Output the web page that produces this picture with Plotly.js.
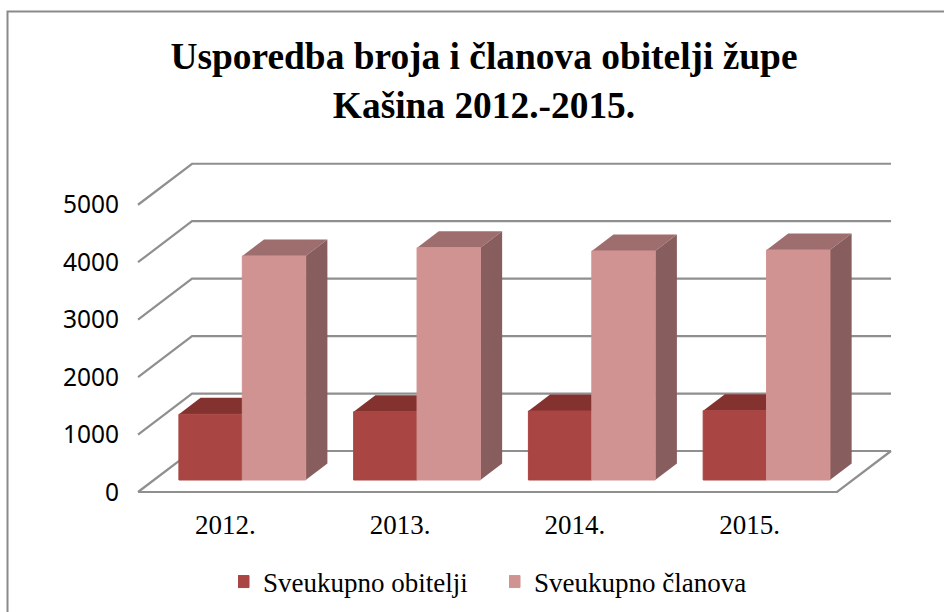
<!DOCTYPE html>
<html><head><meta charset="utf-8">
<script src="https://cdn.plot.ly/plotly-3.0.1.min.js"></script>
<style>html,body{margin:0;padding:0;background:#fff}</style></head>
<body><div id="chart" style="width:944px;height:612px"></div>
<script>
const categories = ['2012.', '2013.', '2014.', '2015.'];
const obitelji = [1143, 1188, 1200, 1205];
const clanova = [3896, 4040, 3983, 4000];
const yTicks = [0, 1000, 2000, 3000, 4000, 5000];
const seriesNames = ['Sveukupno obitelji', 'Sveukupno članova'];

// Layout constants (pixels)
const W = 944, H = 612;
const L = 120, R = 900, T = 150, B = 500;
const catPx = 174.75, cat0Px = 225.4;
const barCat0Px = 242.3;
const unitWall = 57.45 / 1000, zeroWall = 492;
const unitBar = 57.5 / 1000, zeroBar = 480;
const floorDx = 54 / catPx, floorDy = 41 / unitWall;
const barDx = 21.7 / catPx, barDy = 16.5 / unitBar;
const barW = 63.4 / catPx;

const xRange = c0 => [(L - c0) / catPx, (R - c0) / catPx];
const yRange = (z, u) => [(z - B) / u, (z - T) / u];

const gridCol = '#8f8f8f';
const traces = [];
yTicks.forEach(v => {
  traces.push({type:'scatter', mode:'lines', xaxis:'x', yaxis:'y', showlegend:false, hoverinfo:'skip',
    x:[-0.5, -0.5 + floorDx, 3.5 + floorDx], y:[v, v + floorDy, v + floorDy],
    line:{color:gridCol, width:2.2}});
});
traces.push({type:'scatter', mode:'lines', xaxis:'x', yaxis:'y', showlegend:false, hoverinfo:'skip',
  x:[-0.5, 3.5, 3.5 + floorDx], y:[0, 0, floorDy], line:{color:gridCol, width:2.2}});

function faces(vals, off, topCol, sideCol) {
  vals.forEach((v, i) => {
    const l = i + off, r = l + barW;
    traces.push({type:'scatter', mode:'lines', xaxis:'x2', yaxis:'y2', showlegend:false, hoverinfo:'skip',
      x:[l, l + barDx, r + barDx, r, l], y:[v, v + barDy, v + barDy, v, v],
      fill:'toself', fillcolor:topCol, line:{width:0, color:topCol}});
    traces.push({type:'scatter', mode:'lines', xaxis:'x2', yaxis:'y2', showlegend:false, hoverinfo:'skip',
      x:[r, r + barDx, r + barDx, r, r], y:[0, barDy, v + barDy, v, 0],
      fill:'toself', fillcolor:sideCol, line:{width:0, color:sideCol}});
  });
}
faces(obitelji, -barW, '#843230', '#6e2a28');
faces(clanova, 0, '#9e6e6e', '#875e5d');

const xNums = categories.map((c, i) => i);
traces.push({type:'bar', xaxis:'x3', yaxis:'y3', x:xNums, y:obitelji, name:seriesNames[0], offsetgroup:'a', legend:'legend',
  marker:{color:'#a94542', line:{width:1, color:'#a94542'}}, width:barW, offset:-barW});
traces.push({type:'bar', xaxis:'x3', yaxis:'y3', x:xNums, y:clanova, name:seriesNames[1], offsetgroup:'b', legend:'legend2',
  marker:{color:'#d19392', line:{width:1, color:'#d19392'}}, width:barW, offset:0});

const hiddenAxis = {showgrid:false, zeroline:false, showticklabels:false, ticks:'', showline:false, fixedrange:true};
const legendFont = {family:'"Liberation Serif", serif', size:27, color:'#000'};
const legendY = (H - 582) / H;
const layout = {
  width:W, height:H, autosize:false, showlegend:true, barmode:'overlay',
  paper_bgcolor:'#fff', plot_bgcolor:'rgba(0,0,0,0)',
  margin:{l:L, r:W - R, t:T, b:H - B, pad:0},
  title:{text:'Usporedba broja i članova obitelji župe<br>Kašina 2012.-2015.',
    x:(484 - L) / (R - L), xanchor:'center', xref:'paper', y:0.887, yanchor:'top',
    font:{family:'"Liberation Serif", serif', size:37.4, color:'#000', weight:'bold'}},
  xaxis:{range:xRange(cat0Px), tickmode:'array', tickvals:xNums, ticktext:categories, showgrid:false, zeroline:false,
    showline:false, ticks:'outside', ticklen:1, tickcolor:'rgba(0,0,0,0)', fixedrange:true,
    tickfont:{family:'"Liberation Serif", serif', size:27, color:'#000'}},
  yaxis:{range:yRange(zeroWall, unitWall), tickmode:'array', tickvals:yTicks, ticktext:yTicks.map(String), showgrid:false, zeroline:false,
    showline:false, ticks:'', fixedrange:true, tickfont:{family:'"Noto Sans", sans-serif', size:24.5, color:'#000'}},
  xaxis2:Object.assign({range:xRange(barCat0Px), overlaying:'x'}, hiddenAxis),
  yaxis2:Object.assign({range:yRange(zeroBar, unitBar), overlaying:'y', anchor:'x2'}, hiddenAxis),
  xaxis3:Object.assign({range:xRange(barCat0Px), overlaying:'x'}, hiddenAxis),
  yaxis3:Object.assign({range:yRange(zeroBar, unitBar), overlaying:'y', anchor:'x3'}, hiddenAxis),
  legend:{x:(238 - L) / (R - L), xanchor:'left', y:legendY, yref:'container', yanchor:'middle', orientation:'h',
    font:legendFont, itemwidth:30, indentation:-15, bgcolor:'rgba(0,0,0,0)', itemclick:false, itemdoubleclick:false},
  legend2:{x:(509 - L) / (R - L), xanchor:'left', y:legendY, yref:'container', yanchor:'middle', orientation:'h',
    font:legendFont, itemwidth:30, indentation:-15, bgcolor:'rgba(0,0,0,0)', itemclick:false, itemdoubleclick:false},
  shapes:[{type:'path', xref:'paper', yref:'paper', layer:'below',
    path:`M ${(7.5-L)/(R-L)} ${(B-612)/(B-T)} L ${(7.5-L)/(R-L)} ${(B-11.5)/(B-T)} L ${(944-L)/(R-L)} ${(B-11.5)/(B-T)}`,
    line:{color:'#8a8a8a', width:2}}],
  hovermode:false
};
Plotly.newPlot('chart', traces, layout, {staticPlot:true, displayModeBar:false});
</script></body></html>
